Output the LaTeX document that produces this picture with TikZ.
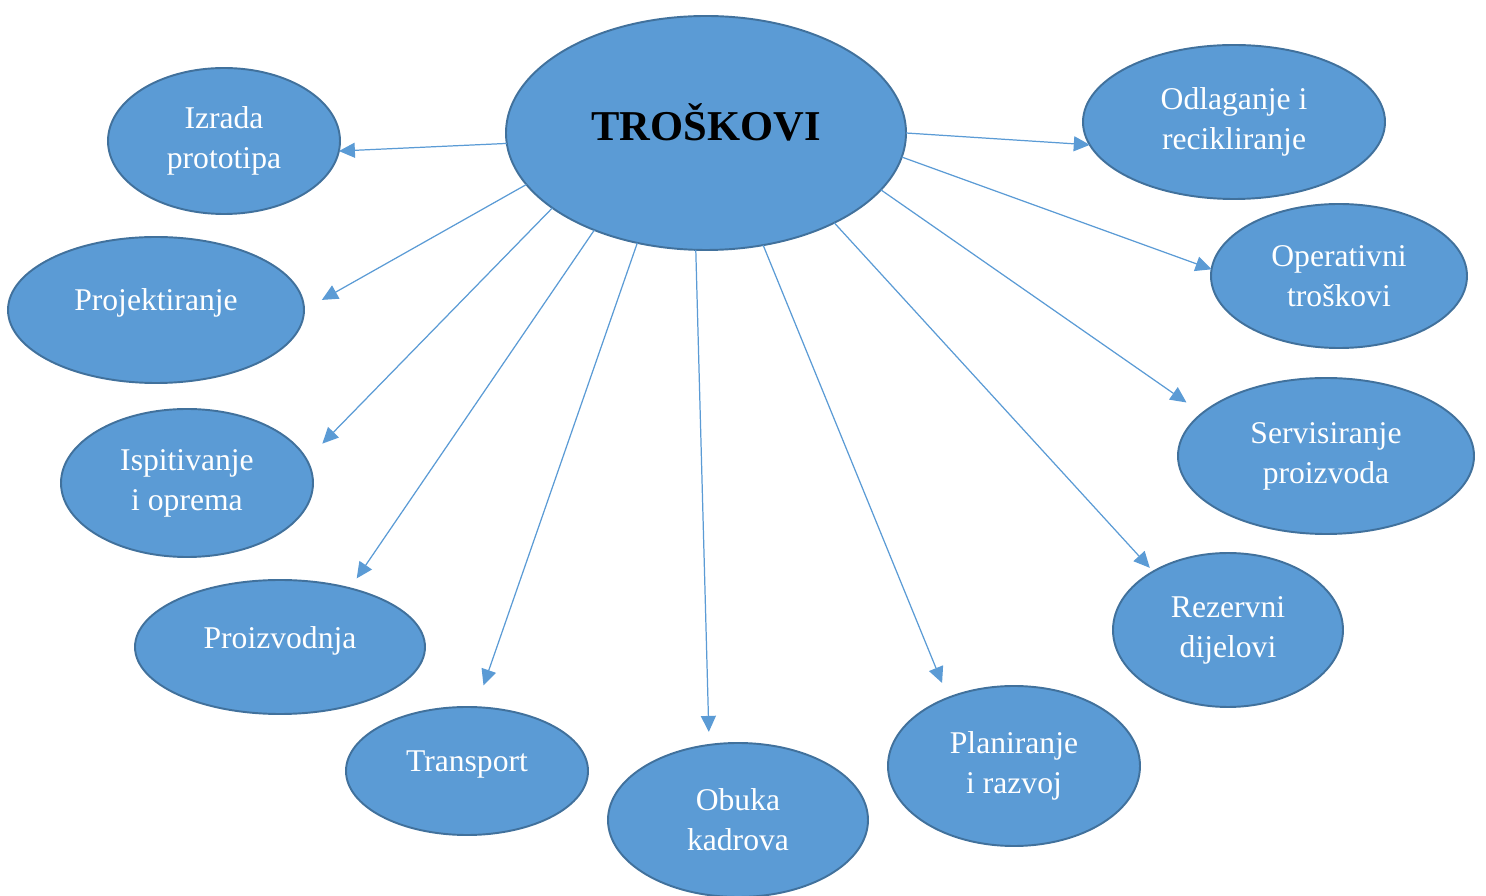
\documentclass[tikz,border=0pt]{standalone}
\usepackage{fontspec}
\setmainfont{Liberation Serif}
\usetikzlibrary{arrows.meta,shapes.geometric}
\definecolor{ovalfill}{HTML}{5B9BD5}
\definecolor{ovalline}{HTML}{41719C}
\begin{document}
\begin{tikzpicture}[>={Triangle[length=0.32cm,width=0.3cm]},
  oval/.style={ellipse,draw=ovalline,line width=1.1pt,fill=ovalfill,inner sep=0pt,outer sep=0pt,
    text=white,align=center,font=\fontsize{18}{22.8}\selectfont},
  link/.style={->,draw=ovalfill,line width=0.7pt}]
\useasboundingbox (0,0) rectangle (29.72,17.92);
% centre
\node[oval,minimum width=8cm,minimum height=4.68cm,text=black,font=\fontsize{24.2}{28}\selectfont\bfseries] (troskovi) at (14.12,15.26){\raisebox{0.42cm}{TROŠKOVI}};
% left side
\node[oval,minimum width=4.64cm,minimum height=2.92cm] (izrada) at (4.48,15.10){Izrada\\prototipa};
\node[oval,minimum width=5.92cm,minimum height=2.92cm] (projekt) at (3.12,11.72){\raisebox{0.4cm}{Projektiranje}};
\node[oval,minimum width=5.04cm,minimum height=2.96cm] (ispit) at (3.74,8.26){Ispitivanje\\i oprema};
\node[oval,minimum width=5.80cm,minimum height=2.68cm] (proizv) at (5.60,4.98){\raisebox{0.36cm}{Proizvodnja}};
\node[oval,minimum width=4.84cm,minimum height=2.56cm] (transp) at (9.34,2.50){\raisebox{0.4cm}{Transport}};
% bottom and right side
\node[oval,minimum width=5.20cm,minimum height=3.08cm] (obuka) at (14.76,1.52){Obuka\\kadrova};
\node[oval,minimum width=5.04cm,minimum height=3.20cm] (planir) at (20.28,2.60){Planiranje\\i razvoj};
\node[oval,minimum width=4.60cm,minimum height=3.08cm] (rezerv) at (24.56,5.32){Rezervni\\dijelovi};
\node[oval,minimum width=5.92cm,minimum height=3.12cm] (servis) at (26.52,8.80){Servisiranje\\proizvoda};
\node[oval,minimum width=5.12cm,minimum height=2.88cm] (operat) at (26.78,12.40){Operativni\\troškovi};
\node[oval,minimum width=6.04cm,minimum height=3.08cm] (odlag) at (24.68,15.48){Odlaganje i\\recikliranje};
% arrows
\draw[link] (troskovi.183) -- (izrada.-5);
\draw[link,shorten >=0.41cm] (troskovi.196.5) -- (projekt.0);
\draw[link,shorten >=0.45cm] (troskovi.206.7) -- (ispit.11);
\draw[link,shorten >=0.24cm] (troskovi.221) -- (proizv.40);
\draw[link,shorten >=0.46cm] (troskovi.238) -- (transp.82);
\draw[link,shorten >=0.26cm] (troskovi.265.7) -- (obuka.111);
\draw[link,shorten >=0.32cm] (troskovi.297.5) -- (planir.134);
\draw[link,shorten >=0.1cm] (troskovi.325.4) -- (rezerv.142);
\draw[link,shorten >=0.38cm] (troskovi.342.5) -- (servis.161.4);
\draw[link] (troskovi.353.6) -- (operat.177);
\draw[link] (troskovi.0) -- (odlag.189);
\end{tikzpicture}
\end{document}
